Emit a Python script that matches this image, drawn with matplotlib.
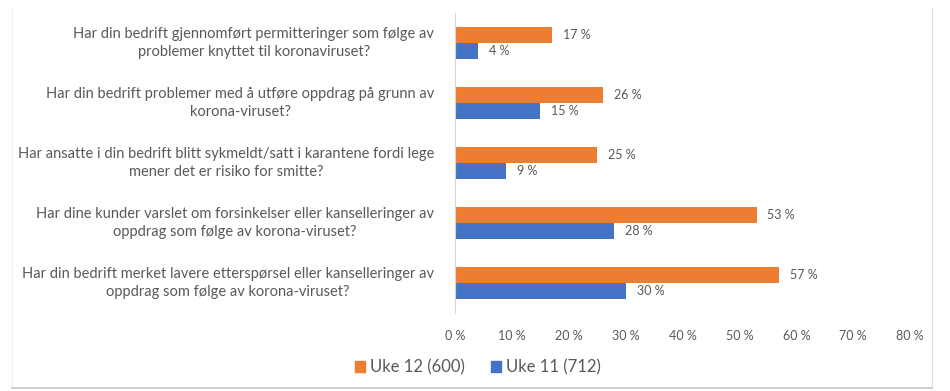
import numpy as np
import matplotlib.pyplot as plt
from matplotlib.patches import Rectangle
from matplotlib.lines import Line2D

plt.rcParams['font.family'] = ['Lato', 'DejaVu Sans']

# Data
questions = [
    "Har din bedrift gjennomført permitteringer som følge av\nproblemer knyttet til koronaviruset?",
    "Har din bedrift problemer med å utføre oppdrag på grunn av\nkorona-viruset?",
    "Har ansatte i din bedrift blitt sykmeldt/satt i karantene fordi lege\nmener det er risiko for smitte?",
    "Har dine kunder varslet om forsinkelser eller kanselleringer av\noppdrag som følge av korona-viruset?",
    "Har din bedrift merket lavere etterspørsel eller kanselleringer av\noppdrag som følge av korona-viruset?",
]
uke12 = [17, 26, 25, 53, 57]
uke11 = [4, 15, 9, 28, 30]
series_names = ["Uke 12 (600)", "Uke 11 (712)"]
xticks = [0, 10, 20, 30, 40, 50, 60, 70, 80]

orange = "#ED7D31"
blue = "#4472C4"
txt = "#595959"

fig = plt.figure(figsize=(9.5, 3.91), dpi=100)
ax = fig.add_axes([0.479, 0.1995, 0.479, 0.7673])

y = np.arange(len(questions))
h = 0.26
b1 = ax.barh(y - h / 2, uke12, height=h, color=orange)
b2 = ax.barh(y + h / 2, uke11, height=h, color=blue)

for bars, vals in ((b1, uke12), (b2, uke11)):
    for rect, v in zip(bars, vals):
        ax.text(v + 1.9, rect.get_y() + rect.get_height() / 2, f"{v} %",
                va="center", ha="left", fontsize=9, color=txt)

ax.set_ylim(len(questions) - 0.5, -0.5)
ax.set_xlim(0, 80)
ax.set_xticks(xticks)
ax.set_xticklabels([f"{t} %" for t in xticks], fontsize=9, color=txt)
ax.set_yticks(y)
ax.set_yticklabels([])
ax.tick_params(length=0, pad=12)

for q, yy in zip(questions, y):
    ax.annotate(q, xy=(0, yy), xycoords=("axes fraction", "data"),
                xytext=(-15, 0), textcoords="offset points",
                ha="right", va="center", multialignment="center",
                fontsize=10.5, color=txt, linespacing=1.35)

for s in ["top", "right", "bottom"]:
    ax.spines[s].set_visible(False)
ax.spines["left"].set_color("#D9D9D9")

handles = [Rectangle((0, 0), 1, 1, color=orange), Rectangle((0, 0), 1, 1, color=blue)]
fig.legend(handles, series_names, loc="center", bbox_to_anchor=(0.503, 0.06),
           ncol=2, frameon=False, fontsize=12, labelcolor=txt,
           handlelength=0.6, handleheight=0.6, handletextpad=0.3, columnspacing=1.6)

# chart frame
W, H = 950, 391
fig.add_artist(Line2D([12 / W, 12 / W], [1 - 8 / H, 1 - 388 / H], color="#EEEEEE", lw=0.8))
fig.add_artist(Line2D([932 / W, 932 / W], [1 - 8 / H, 1 - 388 / H], color="#DDDDDD", lw=0.8))
fig.add_artist(Line2D([12 / W, 932 / W], [1 - 388 / H, 1 - 388 / H], color="#C8C8C8", lw=1.2))

fig.savefig("out.png", dpi=100, facecolor="white")
